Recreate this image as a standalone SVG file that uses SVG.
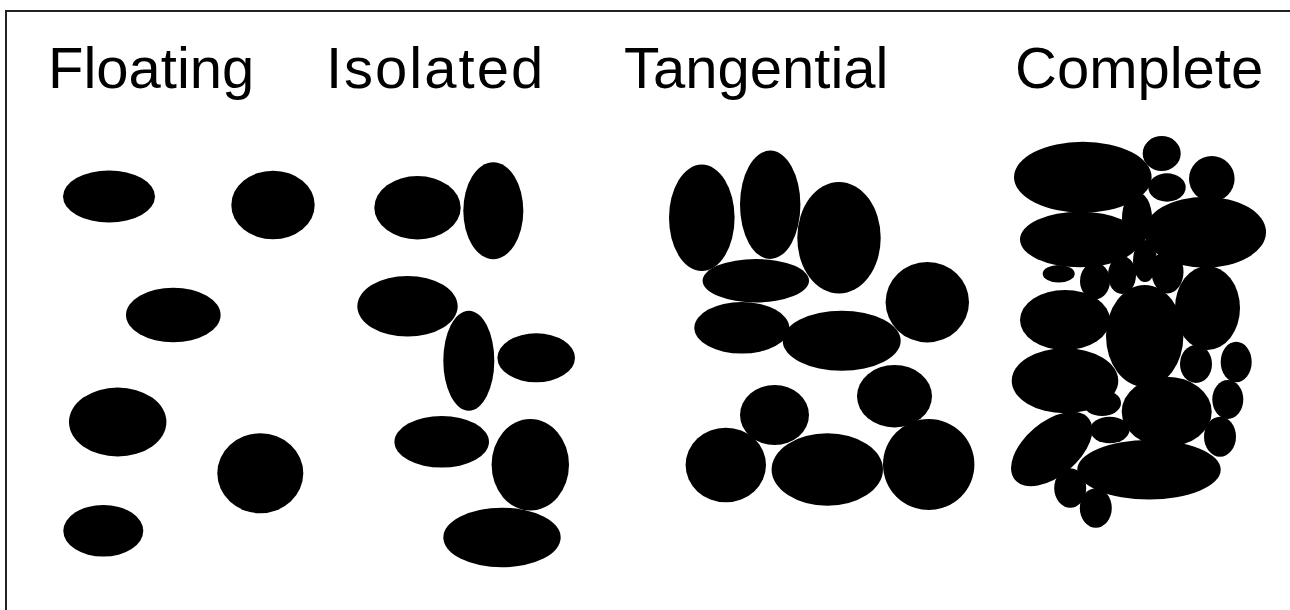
<svg xmlns="http://www.w3.org/2000/svg" width="1290" height="610" viewBox="0 0 1290 610">
<style>
.t{font-family:"Liberation Sans",Arial,sans-serif;font-size:58px;fill:#000}
ellipse{fill:#000}
.frame{fill:none;stroke:#222;stroke-width:2}
</style>
<rect width="1290" height="610" fill="#fff"/>
<path class="frame" d="M6,610 V11 H1290"/>
<g id="titles">
<text class="t" x="48" y="88">Floating</text>
<text class="t" x="326" y="88" style="letter-spacing:2px">Isolated</text>
<text class="t" x="624" y="88">Tangential</text>
<text class="t" x="1015" y="88">Complete</text>
</g>
<g id="floating">
<ellipse cx="109" cy="196.5" rx="46" ry="26"/>
<ellipse cx="273" cy="205" rx="41.7" ry="34.3"/>
<ellipse cx="173.3" cy="315" rx="47.3" ry="27.3"/>
<ellipse cx="117.7" cy="422" rx="48.7" ry="34.5"/>
<ellipse cx="260.3" cy="473.3" rx="43" ry="40"/>
<ellipse cx="103.3" cy="530.8" rx="40" ry="25.8"/>
</g>
<g id="isolated">
<ellipse cx="417.5" cy="207.7" rx="43.2" ry="31.7"/>
<ellipse cx="493.3" cy="210.8" rx="30" ry="48.5"/>
<ellipse cx="407.5" cy="306.3" rx="50.2" ry="30.3"/>
<ellipse cx="468.8" cy="360.7" rx="25.5" ry="50"/>
<ellipse cx="536.2" cy="357.8" rx="38.8" ry="24.5"/>
<ellipse cx="441.7" cy="441.8" rx="47.3" ry="25.8"/>
<ellipse cx="530.3" cy="464.8" rx="38.7" ry="45.8"/>
<ellipse cx="502" cy="537.5" rx="58.7" ry="29.8"/>
</g>
<g id="tangential">
<ellipse cx="701.8" cy="217.8" rx="32.8" ry="53.2"/>
<ellipse cx="770.2" cy="204.8" rx="30.2" ry="54.2"/>
<ellipse cx="839" cy="237.8" rx="41.7" ry="55.8"/>
<ellipse cx="755.8" cy="280.7" rx="53.2" ry="21.7"/>
<ellipse cx="741.8" cy="327.8" rx="47.5" ry="25.8"/>
<ellipse cx="841.7" cy="340.7" rx="59" ry="30"/>
<ellipse cx="927.3" cy="302.2" rx="41.7" ry="40.2"/>
<ellipse cx="894.5" cy="396.2" rx="37.5" ry="31.2"/>
<ellipse cx="774.5" cy="415" rx="34.5" ry="30"/>
<ellipse cx="725.8" cy="465" rx="40.2" ry="37.3"/>
<ellipse cx="827.3" cy="469.5" rx="55.7" ry="36.2"/>
<ellipse cx="928.7" cy="464.5" rx="45.7" ry="45.5"/>
</g>
<g id="complete">
<ellipse cx="1137" cy="218" rx="15" ry="26"/>
<ellipse cx="1082.8" cy="177.2" rx="68.8" ry="35.5"/>
<ellipse cx="1161.7" cy="153.5" rx="19" ry="17.5"/>
<ellipse cx="1167" cy="187.5" rx="18.7" ry="14.2"/>
<ellipse cx="1211.8" cy="178.8" rx="22.8" ry="22.8"/>
<ellipse cx="1080" cy="239.5" rx="60" ry="27.8"/>
<ellipse cx="1205.2" cy="232.2" rx="60.8" ry="35.5"/>
<ellipse cx="1058.7" cy="273.8" rx="16" ry="8.8"/>
<ellipse cx="1095" cy="281" rx="15" ry="18.5"/>
<ellipse cx="1122" cy="275" rx="14" ry="19"/>
<ellipse cx="1145" cy="261" rx="12" ry="21"/>
<ellipse cx="1167.5" cy="271.7" rx="16" ry="21.7"/>
<ellipse cx="1207.5" cy="308" rx="32.5" ry="42"/>
<ellipse cx="1065" cy="320" rx="45" ry="30"/>
<ellipse cx="1144.7" cy="336" rx="38.7" ry="51"/>
<ellipse cx="1196" cy="364" rx="16" ry="19"/>
<ellipse cx="1236.2" cy="362" rx="15.5" ry="20.3"/>
<ellipse cx="1227.8" cy="399.5" rx="15.5" ry="19.5"/>
<ellipse cx="1220" cy="436.7" rx="16" ry="20"/>
<ellipse cx="1065" cy="380.8" rx="53.3" ry="32.5"/>
<ellipse cx="1102" cy="403" rx="19" ry="13"/>
<ellipse cx="1166.7" cy="411.7" rx="45" ry="35"/>
<ellipse cx="1109.7" cy="430" rx="19.7" ry="13.3"/>
<ellipse cx="1051.7" cy="449" rx="48" ry="27" transform="rotate(-40 1051.7 449)"/>
<ellipse cx="1149" cy="469.7" rx="71.7" ry="29.7"/>
<ellipse cx="1070.2" cy="488" rx="16" ry="19.7"/>
<ellipse cx="1095.8" cy="508" rx="16" ry="19.7"/>
</g>
</svg>
